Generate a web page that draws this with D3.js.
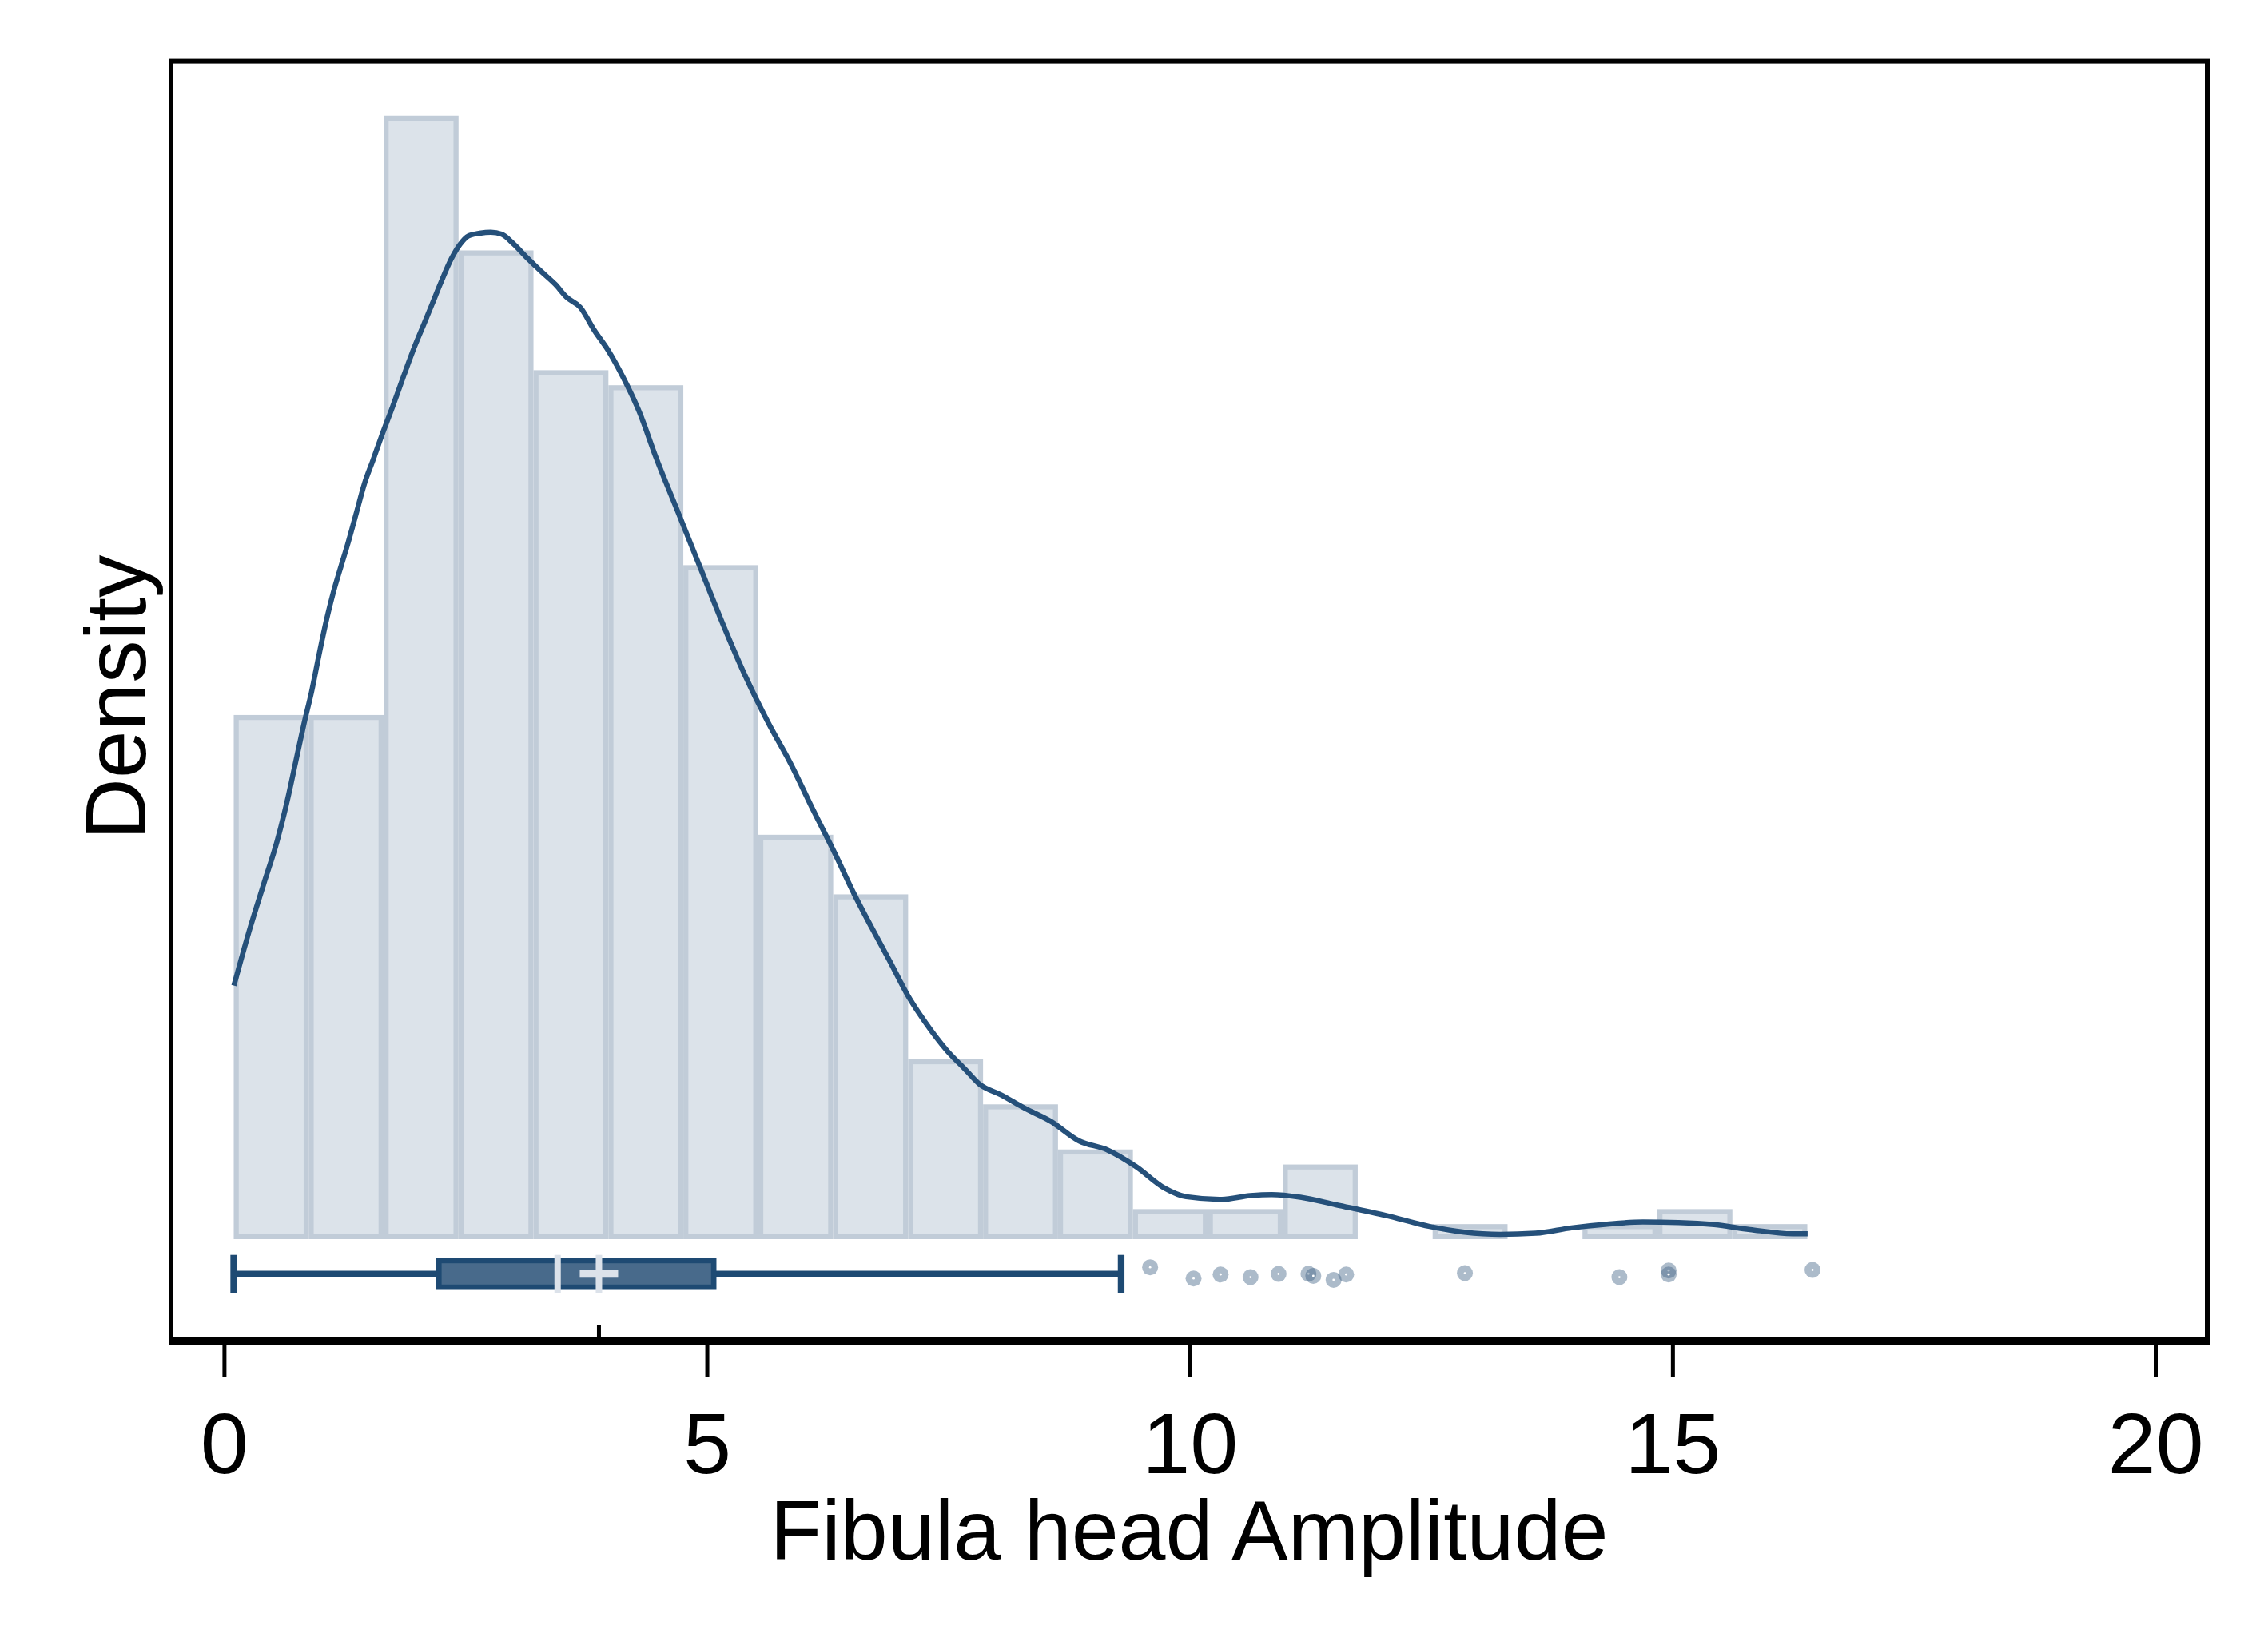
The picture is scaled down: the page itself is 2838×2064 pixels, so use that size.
<!DOCTYPE html>
<html>
<head>
<meta charset="utf-8">
<script src="https://cdn.jsdelivr.net/npm/d3@7"></script>
<style>
  body { margin: 0; background: #fff; }
  svg { display: block; }
</style>
</head>
<body>
<script>
// histogram bins (density)
const binStart = 0.1;
const binWidth = 0.776;
const binDensity = [0.0976, 0.0976, 0.2092, 0.1841, 0.1618, 0.1590, 0.1255, 0.0753, 0.0642,
  0.0335, 0.0251, 0.0167, 0.0056, 0.0056, 0.0139, 0, 0.0028, 0, 0.0028, 0.0056, 0.0028];

// kernel density curve
const kdeX = [0.102, 0.272, 0.410, 0.549, 0.659, 0.742, 0.824, 0.907, 0.990, 1.058, 1.128, 1.211,
  1.280, 1.368, 1.454, 1.541, 1.628, 1.745, 1.859, 1.975, 2.065, 2.152, 2.238, 2.355,
  2.442, 2.530, 2.646, 2.762, 2.877, 2.993, 3.139, 3.283, 3.429, 3.546, 3.689, 3.835, 3.981,
  4.126, 4.301, 4.474, 4.707, 4.939, 5.171, 5.402, 5.634, 5.866, 6.098, 6.329, 6.527, 6.710,
  6.896, 7.080, 7.265, 7.487, 7.671, 7.820, 8.041, 8.300, 8.556, 8.854, 9.150, 9.445, 9.740,
  9.964, 10.333, 10.626, 10.849, 11.146, 11.515, 12.033, 12.476, 12.844, 13.215, 13.584,
  13.954, 14.324, 14.694, 15.063, 15.432, 15.800, 16.246, 16.399];
const kdeY = [0.0472, 0.0581, 0.0661, 0.0741, 0.0820, 0.0889, 0.0957, 0.1020, 0.1094, 0.1151, 0.1202, 0.1253,
  0.1294, 0.1351, 0.1407, 0.1450, 0.1494, 0.1550, 0.1607, 0.1663, 0.1702, 0.1740, 0.1778, 0.1826,
  0.1852, 0.1868, 0.1873, 0.1875, 0.1871, 0.1854, 0.1827, 0.1802, 0.1778, 0.1754, 0.1735, 0.1692, 0.1654,
  0.1607, 0.1540, 0.1455, 0.1351, 0.1247, 0.1143, 0.1047, 0.0962, 0.0886, 0.0800, 0.0717, 0.0642, 0.0579,
  0.0517, 0.0454, 0.0403, 0.0351, 0.0317, 0.0289, 0.0269, 0.0243, 0.0220, 0.0183, 0.0166, 0.0135, 0.0095,
  0.0079, 0.0074, 0.0081, 0.0083, 0.0078, 0.0064, 0.0044, 0.0024, 0.0013, 0.0009, 0.0011,
  0.0021, 0.0028, 0.0032, 0.0031, 0.0027, 0.0018, 0.0010, 0.0010];

// box plot summary
const whiskerLow = 0.1, q1 = 2.225, median = 3.454, mean = 3.882, q3 = 5.071, whiskerHigh = 9.29;

// outside values and their vertical jitter (in box-row units)
const outliers = [9.59, 10.04, 10.32, 10.63, 10.92, 11.23, 11.28, 11.49, 11.62, 12.85, 14.45, 14.96, 14.96, 16.45];
const outlierJitter = [0.35, -0.24, -0.03, -0.17, 0, 0.01, -0.1, -0.31, -0.03, 0.04, -0.17, 0.18, -0.03, 0.21];

const xTicks = [0, 5, 10, 15, 20];
const xTitle = "Fibula head Amplitude";
const yTitle = "Density";

const W = 2838, H = 2064;
const font = "'Liberation Sans', Arial, Helvetica, sans-serif";
const navy = "#1e4a73";

const x = d3.scaleLinear().domain([0, 20]).range([280.4, 2697]);
const y = d3.scaleLinear().domain([0, 0.25]).range([1551, 1551 - 0.25 * 6722]);
const row = d3.scaleLinear().domain([-1, 1]).range([1618.3, 1570.7]);

const svg = d3.select("body").append("svg")
  .attr("width", W).attr("height", H)
  .attr("viewBox", `0 0 ${W} ${H}`);

svg.append("rect").attr("width", W).attr("height", H).attr("fill", "#fff");

// bars (outline drawn inside each bin)
const sw = 6.3;
const bins = binDensity.map((d, i) => ({ x0: binStart + i * binWidth, x1: binStart + (i + 1) * binWidth, d }))
  .filter(b => b.d > 0);
svg.append("g").selectAll("rect").data(bins).join("rect")
  .attr("x", b => x(b.x0) + sw / 2)
  .attr("width", b => x(b.x1) - x(b.x0) - sw)
  .attr("y", b => y(b.d) + sw / 2)
  .attr("height", b => y(0) - y(b.d) - sw)
  .attr("fill", "#dce3ea")
  .attr("stroke", "#c1ccd8")
  .attr("stroke-width", sw);

// density curve
const line = d3.line().x(d => x(d[0])).y(d => y(d[1])).curve(d3.curveMonotoneX);
svg.append("path")
  .datum(kdeX.map((v, i) => [v, kdeY[i]]))
  .attr("d", line)
  .attr("fill", "none")
  .attr("stroke", "#25507a")
  .attr("stroke-width", 6.5)
  .attr("stroke-linejoin", "round");

// box plot
const box = svg.append("g");
const cy = row(0);
box.append("line").attr("x1", x(whiskerLow)).attr("x2", x(q1)).attr("y1", cy).attr("y2", cy)
  .attr("stroke", navy).attr("stroke-width", 8);
box.append("line").attr("x1", x(q3)).attr("x2", x(whiskerHigh)).attr("y1", cy).attr("y2", cy)
  .attr("stroke", navy).attr("stroke-width", 8);
box.selectAll(".cap").data([whiskerLow, whiskerHigh]).join("line")
  .attr("x1", d => x(d)).attr("x2", d => x(d))
  .attr("y1", row(1)).attr("y2", row(-1))
  .attr("stroke", navy).attr("stroke-width", 8.3);
box.append("rect")
  .attr("x", x(q1)).attr("width", x(q3) - x(q1))
  .attr("y", row(0.7)).attr("height", row(-0.7) - row(0.7))
  .attr("fill", "#486a8b").attr("stroke", navy).attr("stroke-width", 6.7);
box.selectAll(".mid").data([median, mean]).join("line")
  .attr("x1", d => x(d)).attr("x2", d => x(d))
  .attr("y1", row(1)).attr("y2", row(-1))
  .attr("stroke", "#dce2ea").attr("stroke-width", 8);
box.append("line")
  .attr("x1", x(mean) - 24).attr("x2", x(mean) + 24)
  .attr("y1", cy).attr("y2", cy)
  .attr("stroke", "#dce2ea").attr("stroke-width", 9.3);

// outside values
const out = svg.append("g").selectAll("g").data(outliers).join("g")
  .attr("transform", (d, i) => `translate(${x(d)},${row(outlierJitter[i])})`);
out.append("circle").attr("r", 10).attr("fill", "#3f6285").attr("fill-opacity", 0.43);
out.append("circle").attr("r", 1.4).attr("fill", "#fff");

// frame
svg.append("rect")
  .attr("x", 214).attr("y", 76.6).attr("width", 2762 - 214).attr("height", 1676 - 76.6)
  .attr("fill", "none").attr("stroke", "#000").attr("stroke-width", 6);

// x axis
const axisY = 1680;
svg.append("line").attr("x1", 211).attr("x2", 2765).attr("y1", axisY).attr("y2", axisY)
  .attr("stroke", "#000").attr("stroke-width", 6);
const ax = svg.append("g").attr("transform", `translate(0,${axisY + 3})`)
  .call(d3.axisBottom(x).tickValues(xTicks).tickFormat(d3.format("d")).tickSize(40).tickPadding(0));
ax.select(".domain").remove();
ax.selectAll(".tick line").attr("stroke", "#000").attr("stroke-width", 5);
ax.selectAll(".tick text")
  .attr("y", 1844 - axisY - 3).attr("dy", null)
  .attr("fill", "#000")
  .style("font-family", font).style("font-size", "108px");

// mean marker tick inside the frame
svg.append("line").attr("x1", x(mean)).attr("x2", x(mean)).attr("y1", 1658).attr("y2", axisY)
  .attr("stroke", "#000").attr("stroke-width", 5);

// titles
svg.append("text")
  .attr("x", (214 + 2762) / 2).attr("y", 1951.7)
  .attr("text-anchor", "middle")
  .style("font-family", font).style("font-size", "106px")
  .text(xTitle);
svg.append("text")
  .attr("transform", `translate(181.7,873) rotate(-90)`)
  .attr("text-anchor", "middle")
  .style("font-family", font).style("font-size", "107px")
  .text(yTitle);
</script>
</body>
</html>
